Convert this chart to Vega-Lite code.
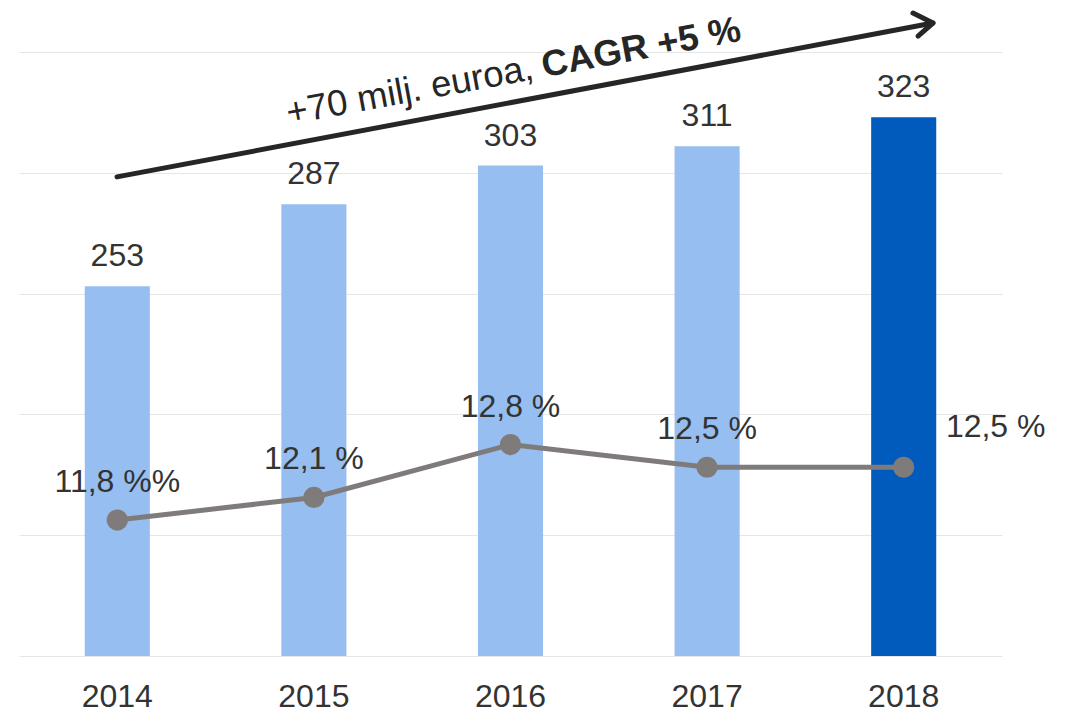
{
  "$schema": "https://vega.github.io/schema/vega-lite/v6.json",
  "width": 983,
  "height": 604,
  "autosize": "none",
  "padding": {"left": 19, "top": 52, "right": 69, "bottom": 52},
  "background": "white",
  "config": {"view": {"stroke": null}, "font": "Liberation Sans"},
  "datasets": {
    "main": [
      {"year": "2014", "value": 253, "pct": 11.8, "pctLabel": "11,8 %%", "highlight": "no"},
      {"year": "2015", "value": 287, "pct": 12.1, "pctLabel": "12,1 %", "highlight": "no"},
      {"year": "2016", "value": 303, "pct": 12.8, "pctLabel": "12,8 %", "highlight": "no"},
      {"year": "2017", "value": 311, "pct": 12.5, "pctLabel": "12,5 %", "highlight": "no"},
      {"year": "2018", "value": 323, "pct": 12.5, "pctLabel": "12,5 %", "highlight": "yes"}
    ],
    "arrow": [
      {"part": "shaft", "ord": 1, "px": 0.4985, "val": 298.3},
      {"part": "shaft", "ord": 2, "px": 4.649, "val": 362.0},
      {"part": "head", "ord": 1, "px": 4.547, "val": 366.1},
      {"part": "head", "ord": 2, "px": 4.649, "val": 362.0},
      {"part": "head", "ord": 3, "px": 4.573, "val": 356.6}
    ],
    "note": [
      {"px": 2.65, "val": 339.2, "normal": "+70 milj. euroa,", "bold": "CAGR +5 %"}
    ]
  },
  "layer": [
    {
      "data": {"name": "main"},
      "layer": [
        {
          "mark": {"type": "bar"},
          "encoding": {
            "x": {
              "field": "year", "type": "nominal", "sort": null,
              "scale": {"type": "band", "paddingInner": 0.669, "paddingOuter": 0.3345},
              "axis": {"title": null, "labelAngle": 0, "labelFontSize": 32, "labelColor": "#333333", "labelPadding": 25, "ticks": false, "tickSize": 0, "domain": false, "grid": false}
            },
            "y": {
              "field": "value", "type": "quantitative",
              "scale": {"domain": [100, 350], "nice": false, "zero": false},
              "axis": {"title": null, "labels": false, "ticks": false, "domain": false, "grid": true, "gridColor": "#e6e6e6", "gridWidth": 1, "values": [100, 150, 200, 250, 300, 350]}
            },
            "y2": {"datum": 100},
            "color": {
              "field": "highlight", "type": "nominal",
              "scale": {"domain": ["no", "yes"], "range": ["#97BEF0", "#005BBD"]},
              "legend": null
            }
          }
        },
        {
          "mark": {"type": "text", "fontSize": 32, "color": "#333333", "baseline": "middle", "dy": -30},
          "encoding": {
            "x": {"field": "year", "type": "nominal", "sort": null},
            "y": {"field": "value", "type": "quantitative", "scale": {"domain": [100, 350], "nice": false, "zero": false}, "axis": null},
            "text": {"field": "value", "type": "quantitative"}
          }
        },
        {
          "mark": {"type": "line", "color": "#7F7B7B", "strokeWidth": 5},
          "encoding": {
            "x": {"field": "year", "type": "nominal", "sort": null},
            "y": {"field": "pct", "type": "quantitative", "scale": {"domain": [10, 18], "nice": false, "zero": false}, "axis": null}
          }
        },
        {
          "mark": {"type": "point", "filled": true, "color": "#7F7B7B", "size": 450, "opacity": 1},
          "encoding": {
            "x": {"field": "year", "type": "nominal", "sort": null},
            "y": {"field": "pct", "type": "quantitative", "scale": {"domain": [10, 18], "nice": false, "zero": false}, "axis": null}
          }
        },
        {
          "transform": [{"filter": "datum.year != '2018'"}],
          "mark": {"type": "text", "fontSize": 32, "color": "#333333", "baseline": "middle", "dy": -38},
          "encoding": {
            "x": {"field": "year", "type": "nominal", "sort": null},
            "y": {"field": "pct", "type": "quantitative", "scale": {"domain": [10, 18], "nice": false, "zero": false}, "axis": null},
            "text": {"field": "pctLabel", "type": "nominal"}
          }
        },
        {
          "transform": [{"filter": "datum.year == '2018'"}],
          "mark": {"type": "text", "fontSize": 32, "color": "#333333", "baseline": "middle", "dy": -40, "dx": 92},
          "encoding": {
            "x": {"field": "year", "type": "nominal", "sort": null},
            "y": {"field": "pct", "type": "quantitative", "scale": {"domain": [10, 18], "nice": false, "zero": false}, "axis": null},
            "text": {"field": "pctLabel", "type": "nominal"}
          }
        }
      ],
      "resolve": {"scale": {"y": "independent"}}
    },
    {
      "layer": [
        {
          "data": {"name": "arrow"},
          "mark": {"type": "line", "color": "#262626", "strokeWidth": 5, "strokeCap": "round", "strokeJoin": "round"},
          "encoding": {
            "x": {"field": "px", "type": "quantitative", "scale": {"domain": [0, 5], "nice": false, "zero": false}, "axis": null},
            "y": {"field": "val", "type": "quantitative", "scale": {"domain": [100, 350], "nice": false, "zero": false}, "axis": null},
            "detail": {"field": "part", "type": "nominal"},
            "order": {"field": "ord", "type": "quantitative"}
          }
        },
        {
          "data": {"name": "note"},
          "mark": {"type": "text", "fontSize": 36.5, "color": "#262626", "align": "right", "baseline": "alphabetic", "angle": -10.5, "dx": -5},
          "encoding": {
            "x": {"field": "px", "type": "quantitative", "scale": {"domain": [0, 5], "nice": false, "zero": false}, "axis": null},
            "y": {"field": "val", "type": "quantitative", "scale": {"domain": [100, 350], "nice": false, "zero": false}, "axis": null},
            "text": {"field": "normal", "type": "nominal"}
          }
        },
        {
          "data": {"name": "note"},
          "mark": {"type": "text", "fontSize": 36.5, "fontWeight": "bold", "color": "#262626", "align": "left", "baseline": "alphabetic", "angle": -10.5, "dx": 4},
          "encoding": {
            "x": {"field": "px", "type": "quantitative", "scale": {"domain": [0, 5], "nice": false, "zero": false}, "axis": null},
            "y": {"field": "val", "type": "quantitative", "scale": {"domain": [100, 350], "nice": false, "zero": false}, "axis": null},
            "text": {"field": "bold", "type": "nominal"}
          }
        }
      ]
    }
  ],
  "resolve": {"scale": {"x": "independent", "y": "independent"}}
}
